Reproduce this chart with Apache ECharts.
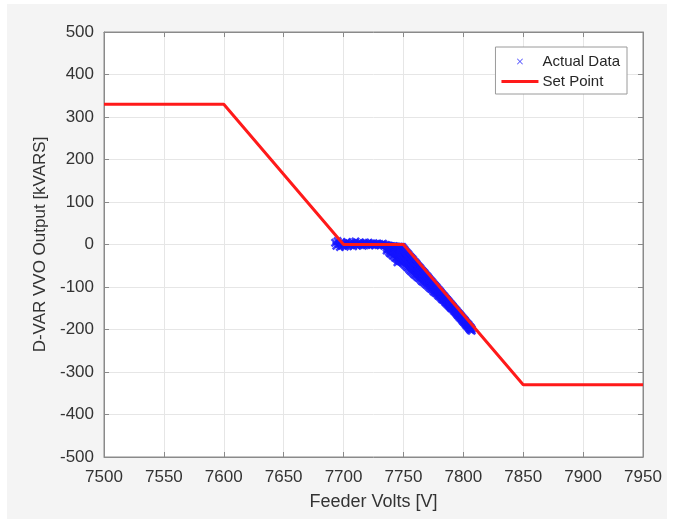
<!DOCTYPE html>
<html><head><meta charset="utf-8">
<script src="https://cdn.jsdelivr.net/npm/echarts@6/dist/echarts.min.js"></script>
<style>html,body{margin:0;padding:0;background:#ffffff}#c{width:679px;height:519px}</style>
</head><body><div id="c"></div>
<script>
const xTicks = [7500,7550,7600,7650,7700,7750,7800,7850,7900,7950];
const yTicks = [-500,-400,-300,-200,-100,0,100,200,300,400,500];
const setPointVolts = [7500,7600,7700,7750,7850,7950];
const setPointKvar  = [330,330,0,0,-330,-330];
const actualFlat = [
[7693,4],[7694,-3],[7695,8],[7696,1],[7697,-6],[7698,5],[7699,-2],[7700,3],[7701,-5],[7702,0],
[7703,6],[7704,-3],[7705,2],[7706,-1],[7707,5],[7708,-4],[7709,1],[7710,7],[7711,-2],[7712,3],
[7713,-1],[7714,4],[7715,0],[7716,-3],[7717,2],[7718,5],[7719,-1],[7720,1],[7721,4],[7722,-2],
[7723,2],[7724,0],[7725,3],[7726,-2],[7727,1],[7728,2],[7729,-1],[7730,1],[7731,-2],[7732,0],
[7733,2],[7734,-3],[7735,-1],
[7736,-2],[7736,-8],[7736,-14],[7737,-3],[7737,-11],[7738,-3],[7738,-10],[7738,-18],
[7739,-4],[7739,-14],[7739,-21],[7740,-4],[7740,-13],[7740,-22],[7741,-5],[7741,-16],[7741,-26],
[7742,-4],[7742,-15],[7742,-27],[7743,-5],[7743,-19],[7743,-31],[7744,-5],[7744,-18],[7744,-32],
[7745,-6],[7745,-21],[7745,-35],[7745,-42],[7746,-5],[7746,-20],[7746,-36],[7747,-6],[7747,-23],[7747,-39],
[7748,-6],[7748,-22],[7748,-40],[7749,-6],[7749,-25],[7749,-42]
];
const actualDroop = [
[7750,-10],[7750,-21],[7750,-32],[7750,-44],[7751,-13],[7751,-24],[7751,-36],[7751,-47],
[7752,-17],[7752,-28],[7752,-39],[7752,-50],[7753,-20],[7753,-31],[7753,-42],[7753,-53],
[7754,-23],[7754,-34],[7754,-44],[7754,-55],[7755,-27],[7755,-38],[7755,-48],[7755,-59],
[7756,-30],[7756,-41],[7756,-51],[7756,-62],[7757,-33],[7757,-43],[7757,-54],[7757,-64],
[7758,-36],[7758,-46],[7758,-57],[7758,-67],[7759,-40],[7759,-50],[7759,-60],[7759,-70],
[7760,-43],[7760,-53],[7760,-62],[7760,-72],[7761,-46],[7761,-55],[7761,-65],[7761,-74],
[7762,-50],[7762,-59],[7762,-68],[7762,-77],[7763,-53],[7763,-62],[7763,-70],[7763,-79],
[7764,-56],[7764,-64],[7764,-73],[7764,-81],[7765,-60],[7765,-68],[7765,-77],[7765,-85],
[7766,-63],[7766,-71],[7766,-79],[7766,-87],[7767,-66],[7767,-74],[7767,-81],[7767,-89],
[7768,-69],[7768,-77],[7768,-84],[7768,-91],[7769,-73],[7769,-80],[7769,-87],[7769,-94],
[7770,-76],[7770,-83],[7770,-89],[7770,-96],[7771,-79],[7771,-86],[7771,-92],[7771,-99],
[7772,-83],[7772,-89],[7772,-96],[7772,-102],[7773,-86],[7773,-92],[7773,-98],[7773,-104],
[7774,-89],[7774,-95],[7774,-100],[7774,-106],[7775,-93],[7775,-99],[7775,-104],[7775,-110],
[7776,-96],[7776,-101],[7776,-107],[7776,-112],[7777,-99],[7777,-104],[7777,-109],[7777,-114],
[7778,-102],[7778,-107],[7778,-111],[7778,-116],[7779,-106],[7779,-110],[7779,-115],[7779,-120],
[7780,-109],[7780,-113],[7780,-118],[7780,-122],[7781,-112],[7781,-116],[7781,-120],[7781,-124],
[7782,-116],[7782,-120],[7782,-124],[7782,-128],[7783,-119],[7783,-123],[7783,-127],[7783,-130],
[7784,-122],[7784,-125],[7784,-129],[7784,-132],[7785,-126],[7785,-129],[7785,-133],[7785,-136],
[7786,-129],[7786,-132],[7786,-135],[7786,-138],[7787,-132],[7787,-135],[7787,-138],[7787,-141],
[7788,-135],[7788,-138],[7788,-141],[7788,-144],[7789,-139],[7789,-142],[7789,-145],[7789,-147],
[7790,-142],[7790,-145],[7790,-148],[7790,-150],[7791,-145],[7791,-148],[7791,-151],
[7792,-149],[7792,-152],[7792,-155],[7793,-152],[7793,-155],[7793,-158],
[7794,-155],[7794,-158],[7794,-161],[7795,-159],[7795,-162],[7795,-165],
[7796,-162],[7796,-165],[7796,-168],[7797,-165],[7797,-168],[7797,-171],
[7798,-168],[7798,-171],[7798,-174],[7799,-172],[7799,-175],[7799,-178],
[7800,-175],[7800,-178],[7800,-181],[7801,-178],[7801,-181],[7801,-184],
[7802,-182],[7802,-185],[7802,-188],[7803,-185],[7803,-188],[7803,-191],
[7804,-188],[7804,-191],[7804,-194],[7805,-192],[7805,-195],[7805,-198],
[7806,-195],[7806,-198],[7806,-201],[7807,-199],[7807,-203]
];
const actualData = actualFlat.concat(actualDroop);
const setPoint = setPointVolts.map((v,i)=>[v,setPointKvar[i]]);
const crossPath = 'path://M0,2L2,0L5,3L8,0L10,2L7,5L10,8L8,10L5,7L2,10L0,8L3,5Z';
const legendCross = 'path://M0,0L0.01,0L0,0.01Z M25,25L24.99,25L25,24.99Z M7.5,8.5L8.5,7.5L12.5,11.5L16.5,7.5L17.5,8.5L13.5,12.5L17.5,16.5L16.5,17.5L12.5,13.5L8.5,17.5L7.5,16.5L11.5,12.5Z';
const legendLine = 'path://M0,0L37,0L37,3L0,3Z';
const font = 'Liberation Sans, Arial, sans-serif';
const chart = echarts.init(document.getElementById('c'));
const axisCommon = {
  axisLine:{show:true,onZero:false,lineStyle:{color:'#8a8a8a',width:1}},
  axisTick:{show:true,inside:true,length:5,lineStyle:{color:'#8a8a8a'}},
  splitLine:{show:true,lineStyle:{color:'#e6e6e6',width:1}}
};
chart.setOption({
  backgroundColor:'transparent',
  animation:false,
  graphic:[{type:'rect',shape:{x:7,y:4,width:660,height:515},style:{fill:'#f4f4f4'},z:-10,silent:true}],
  grid:{left:104,right:36,top:32,bottom:62,show:true,backgroundColor:'#ffffff',borderColor:'#8a8a8a',borderWidth:1},
  legend:{
    orient:'vertical', right:52, top:47, itemGap:5, itemWidth:37, itemHeight:15,
    backgroundColor:'#ffffff', borderColor:'#9a9a9a', borderWidth:1, borderRadius:0,
    padding:[7,7,5,6],
    textStyle:{fontFamily:font,fontSize:15,color:'#262626',padding:[0,0,0,-1]},
    data:[{name:'Actual Data',icon:legendCross,itemStyle:{color:'#2020ff'}},{name:'Set Point',icon:legendLine,itemStyle:{color:'#ff1a1a'}}]
  },
  xAxis:[{
    type:'value', min:7500, max:7950, interval:50,
    name:'Feeder Volts [V]', nameLocation:'middle', nameGap:36,
    nameTextStyle:{fontFamily:font,fontSize:18,color:'#333'},
    axisLabel:{fontFamily:font,fontSize:17,color:'#333',margin:12,formatter:v=>xTicks.includes(v)?String(v):''},
    ...axisCommon
  },{
    type:'value', min:7500, max:7950, interval:50, position:'top',
    axisLine:{show:true,onZero:false,lineStyle:{color:'#8a8a8a'}},
    axisTick:{show:true,inside:true,length:5,lineStyle:{color:'#8a8a8a'}},
    axisLabel:{show:false}, splitLine:{show:false}
  }],
  yAxis:[{
    type:'value', min:-500, max:500, interval:100,
    name:'D-VAR VVO Output [kVARS]', nameLocation:'middle', nameGap:45,
    nameTextStyle:{fontFamily:font,fontSize:17,color:'#333'},
    axisLabel:{fontFamily:font,fontSize:17,color:'#333',margin:10,formatter:v=>yTicks.includes(v)?String(v):''},
    ...axisCommon
  },{
    type:'value', min:-500, max:500, interval:100, position:'right',
    axisLine:{show:true,onZero:false,lineStyle:{color:'#8a8a8a'}},
    axisTick:{show:true,inside:true,length:5,lineStyle:{color:'#8a8a8a'}},
    axisLabel:{show:false}, splitLine:{show:false}
  }],
  series:[{
    name:'Actual Data', type:'scatter', data:actualData,
    symbol:crossPath, symbolSize:9,
    itemStyle:{color:'#1414ff'}, z:3
  },{
    name:'Set Point', type:'line', data:setPoint, showSymbol:false, symbol:'none',
    lineStyle:{color:'#ff1a1a',width:3}, itemStyle:{color:'#ff1a1a'}, z:4
  }]
});
</script></body></html>
